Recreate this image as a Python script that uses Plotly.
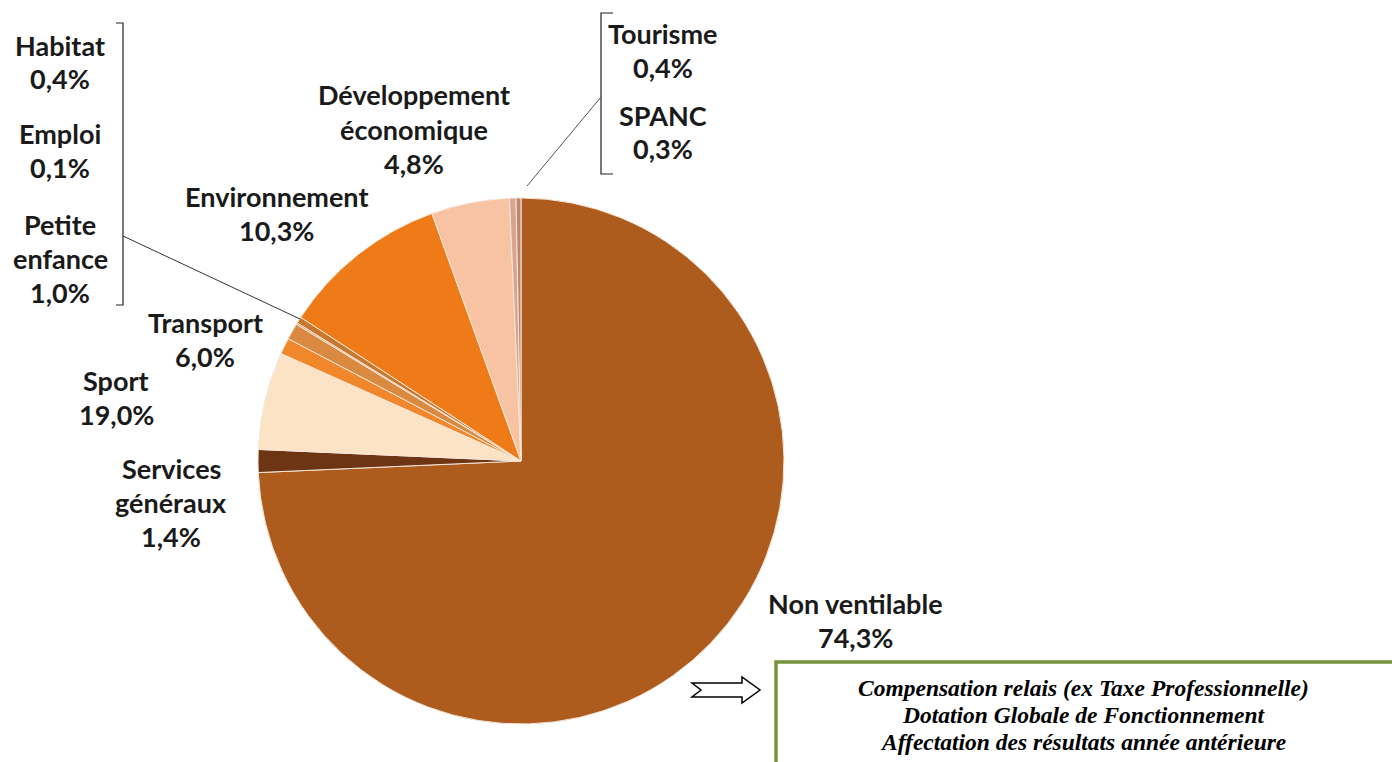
import plotly.graph_objects as go

# ---- data (slice sizes as drawn, label texts as printed) ----
categories = ["Non ventilable", "Services généraux", "Sport", "Transport",
              "Petite enfance", "Emploi", "Habitat", "Environnement",
              "Développement économique", "Tourisme", "SPANC"]
values = [74.3, 1.4, 6.0, 1.0, 1.0, 0.1, 0.4, 10.3, 4.8, 0.4, 0.3]
label_names = [["Non ventilable"], ["Services", "généraux"], ["Sport"], ["Transport"],
               ["Petite", "enfance"], ["Emploi"], ["Habitat"], ["Environnement"],
               ["Développement", "économique"], ["Tourisme"], ["SPANC"]]
label_pcts = ["74,3%", "1,4%", "19,0%", "6,0%", "1,0%", "0,1%", "0,4%",
              "10,3%", "4,8%", "0,4%", "0,3%"]
note_lines = ["Compensation relais (ex Taxe Professionnelle)",
              "Dotation Globale de Fonctionnement",
              "Affectation des résultats année antérieure"]

colors = ["#AE5C1D", "#6E3514", "#FDE3C6", "#F0872A", "#D98A40", "#E8A060",
          "#C9762E", "#EE7B17", "#F8C3A3", "#D9A58F", "#B98770"]

W, H = 1392, 762
def px(x): return x / W
def py(y): return 1 - y / H

# label layout: (center x, first line y) in pixels, line spacing
label_pos = [(855, 603), (171, 468), (116, 380), (205, 322), (60, 224), (60, 133),
             (60, 45), (276, 196), (414, 95), (663, 33), (663, 115)]
LS = 34

fig = go.Figure()
fig.add_trace(go.Pie(
    labels=categories, values=values, sort=False, direction="clockwise",
    rotation=0, marker=dict(colors=colors, line=dict(color="#F6E6D8", width=1)),
    textinfo="none", hoverinfo="label+percent", showlegend=False,
    domain=dict(x=[px(258), px(784)], y=[py(724), py(198)]),
))

ann = []
for names, pct, (cx, cy) in zip(label_names, label_pcts, label_pos):
    lines = names + [pct]
    for i, t in enumerate(lines):
        ann.append(dict(x=px(cx), y=py(cy + i * LS), xref="paper", yref="paper",
                        text=t, showarrow=False, xanchor="center", yanchor="middle",
                        font=dict(family="Lato", size=27, color="#1a1a1a", weight="bold")))

for i, t in enumerate(note_lines):
    ann.append(dict(x=px(1083), y=py(688 + i * 27), xref="paper", yref="paper",
                    text="<b><i>" + t + "</i></b>", showarrow=False,
                    xanchor="center", yanchor="middle",
                    font=dict(family="Liberation Serif", size=23.5, color="#000000")))

shapes = []
line_style = dict(color="#222222", width=1.2)
# left bracket
shapes.append(dict(type="path", xref="paper", yref="paper",
                   path=f"M {px(116)},{py(23)} L {px(123)},{py(23)} L {px(123)},{py(305)} L {px(116)},{py(305)}",
                   line=line_style))
# left leader line
shapes.append(dict(type="line", xref="paper", yref="paper",
                   x0=px(123), y0=py(236), x1=px(300), y1=py(319), line=dict(color="#333333", width=1)))
# right bracket
shapes.append(dict(type="path", xref="paper", yref="paper",
                   path=f"M {px(613)},{py(13)} L {px(601)},{py(13)} L {px(601)},{py(174)} L {px(613)},{py(174)}",
                   line=line_style))
# right leader line
shapes.append(dict(type="line", xref="paper", yref="paper",
                   x0=px(601), y0=py(97), x1=px(527), y1=py(186), line=dict(color="#555555", width=1)))
# arrow
ap = [(692, 683), (742, 683), (742, 677), (760, 690), (742, 703), (742, 697), (692, 697), (701, 690)]
path = "M " + " L ".join(f"{px(x)},{py(y)}" for x, y in ap) + " Z"
shapes.append(dict(type="path", xref="paper", yref="paper", path=path,
                   line=dict(color="#000000", width=1.5), fillcolor="white"))
# green box (top and left edges visible)
shapes.append(dict(type="path", xref="paper", yref="paper",
                   path=f"M {px(1400)},{py(662)} L {px(776)},{py(662)} L {px(776)},{py(770)}",
                   line=dict(color="#77933C", width=3.5)))

fig.update_layout(
    width=W, height=H, margin=dict(l=0, r=0, t=0, b=0),
    paper_bgcolor="white", plot_bgcolor="white",
    annotations=ann, shapes=shapes,
)
fig.write_html("out.html", config={"displayModeBar": False},
               post_script="document.body.style.margin='0px';document.body.style.overflow='hidden';")
